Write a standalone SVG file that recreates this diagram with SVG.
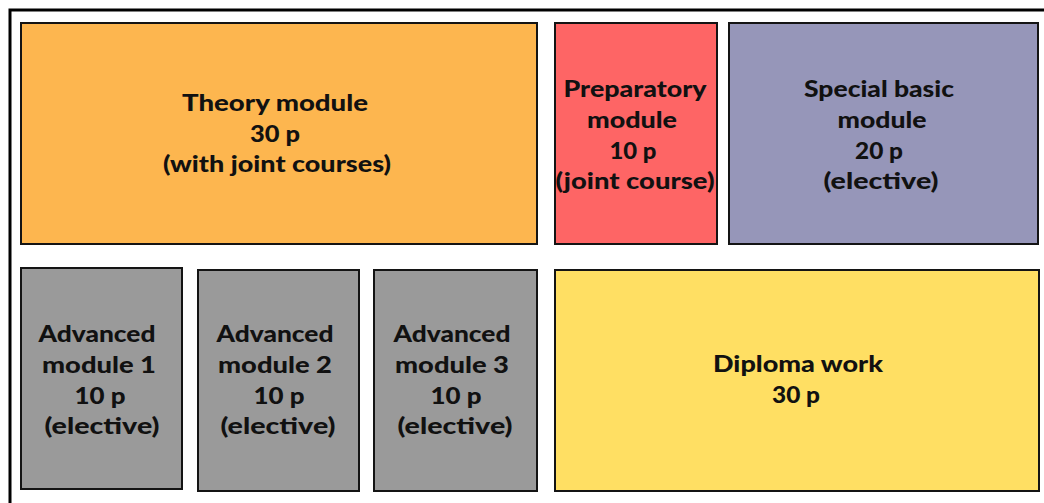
<svg xmlns="http://www.w3.org/2000/svg" width="1044" height="503" viewBox="0 0 1044 503">
<style>
.box{stroke:#141414;stroke-width:2}
.t{font-family:Lato,"Open Sans","Liberation Sans",sans-serif;font-weight:900;font-size:23px;fill:#111;text-anchor:middle}
</style>
<rect width="1044" height="503" fill="#fff"/>
<rect x="10" y="10" width="1100" height="600" fill="none" stroke="#000" stroke-width="3"/>
<g id="theory">
<rect class="box" x="21" y="23" width="516" height="221" fill="#FDB64F"/>
<text class="t" x="275" y="111" textLength="186" lengthAdjust="spacingAndGlyphs">Theory module</text>
<text class="t" x="275" y="142" textLength="50" lengthAdjust="spacingAndGlyphs">30 p</text>
<text class="t" x="277" y="172" textLength="228" lengthAdjust="spacingAndGlyphs">(with joint courses)</text>
</g>
<g id="preparatory">
<rect class="box" x="555" y="23" width="162" height="221" fill="#FE6565"/>
<text class="t" x="635" y="97" textLength="143" lengthAdjust="spacingAndGlyphs">Preparatory</text>
<text class="t" x="632" y="128" textLength="90" lengthAdjust="spacingAndGlyphs">module</text>
<text class="t" x="633" y="159" textLength="47" lengthAdjust="spacingAndGlyphs">10 p</text>
<text class="t" x="635" y="189" textLength="159" lengthAdjust="spacingAndGlyphs">(joint course)</text>
</g>
<g id="special">
<rect class="box" x="729" y="23" width="309" height="221" fill="#9696B9"/>
<text class="t" x="879" y="97" textLength="150" lengthAdjust="spacingAndGlyphs">Special basic</text>
<text class="t" x="882" y="128" textLength="89" lengthAdjust="spacingAndGlyphs">module</text>
<text class="t" x="879" y="159" textLength="48" lengthAdjust="spacingAndGlyphs">20 p</text>
<text class="t" x="881" y="189" textLength="115" lengthAdjust="spacingAndGlyphs">(elective)</text>
</g>
<g id="adv1">
<rect class="box" x="21" y="268" width="161" height="221" fill="#9A9A9A"/>
<text class="t" x="97" y="342" textLength="117" lengthAdjust="spacingAndGlyphs">Advanced</text>
<text class="t" x="99" y="373" textLength="114" lengthAdjust="spacingAndGlyphs">module 1</text>
<text class="t" x="100" y="404" textLength="51" lengthAdjust="spacingAndGlyphs">10 p</text>
<text class="t" x="102" y="434" textLength="115" lengthAdjust="spacingAndGlyphs">(elective)</text>
</g>
<g id="adv2">
<rect class="box" x="198" y="270" width="161" height="221" fill="#9A9A9A"/>
<text class="t" x="275" y="342" textLength="117" lengthAdjust="spacingAndGlyphs">Advanced</text>
<text class="t" x="275" y="373" textLength="114" lengthAdjust="spacingAndGlyphs">module 2</text>
<text class="t" x="279" y="404" textLength="51" lengthAdjust="spacingAndGlyphs">10 p</text>
<text class="t" x="278" y="434" textLength="115" lengthAdjust="spacingAndGlyphs">(elective)</text>
</g>
<g id="adv3">
<rect class="box" x="374" y="270" width="163" height="221" fill="#9A9A9A"/>
<text class="t" x="452" y="342" textLength="117" lengthAdjust="spacingAndGlyphs">Advanced</text>
<text class="t" x="452" y="373" textLength="114" lengthAdjust="spacingAndGlyphs">module 3</text>
<text class="t" x="456" y="404" textLength="51" lengthAdjust="spacingAndGlyphs">10 p</text>
<text class="t" x="455" y="434" textLength="115" lengthAdjust="spacingAndGlyphs">(elective)</text>
</g>
<g id="diploma">
<rect class="box" x="555" y="270" width="484" height="221" fill="#FFDF63"/>
<text class="t" x="798" y="372" textLength="170" lengthAdjust="spacingAndGlyphs">Diploma work</text>
<text class="t" x="796" y="403" textLength="48" lengthAdjust="spacingAndGlyphs">30 p</text>
</g>
<g id="connectors"></g>
</svg>
